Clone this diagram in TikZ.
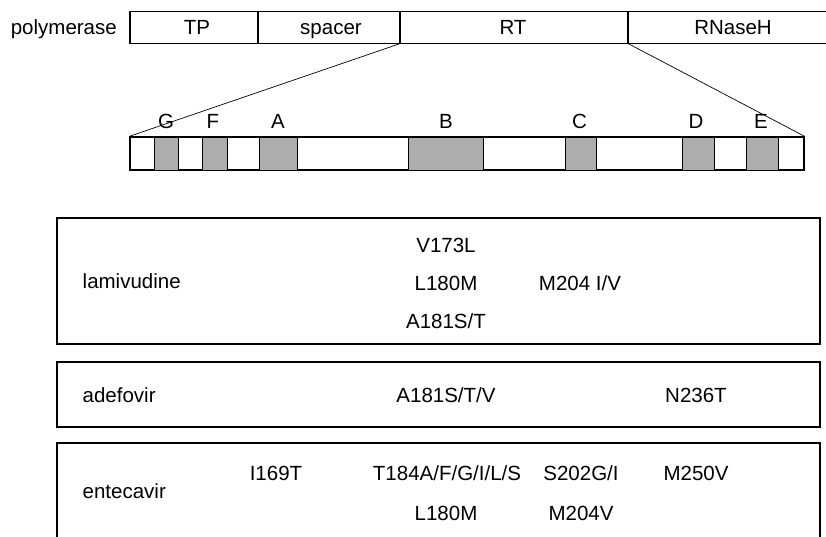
\documentclass[tikz,border=0pt]{standalone}
\usepackage{fontspec}
\setmainfont{Liberation Sans}
\begin{document}
\begin{tikzpicture}[x=1pt,y=-1pt,
  lbl/.style={font=\fontsize{20.5}{24}\selectfont, inner sep=0pt, text height=14.7pt, text depth=0pt},
  seg/.style={draw, line width=1.3pt, inner sep=0pt, minimum height=32pt},
  drugbox/.style={draw, line width=1.4pt},
  zoomline/.style={line width=0.7pt},
  motif/.style={draw, line width=1pt, fill=black!32, inner sep=0pt, minimum height=33pt}
]
\useasboundingbox (0,0) rectangle (826,536);

% polymerase bar
\node[seg, minimum width=128pt] (tp) at (194,27.2) {};
\node[seg, minimum width=142pt] (sp) at (329,27.2) {};
\node[seg, minimum width=228pt] (rt) at (514,27.2) {};
\node[seg, minimum width=212pt] (rh) at (734,27.2) {};
\node[lbl, anchor=east] (pol) at (117,27.2) {polymerase};
\node[lbl] (tpl) at (197,27.2) {TP};
\node[lbl] (spl) at (331,27.2) {spacer};
\node[lbl] (rtl) at (513,27.2) {RT};
\node[lbl] (rhl) at (733,27.2) {RNaseH};

% RT domain bar
\node[seg, line width=1.3pt, minimum width=674pt, minimum height=33pt] (bar) at (467,153.5) {};
\node[motif, minimum width=24pt] (mG) at (166,153.5) {};
\node[motif, minimum width=25pt] (mF) at (214.5,153.5) {};
\node[motif, minimum width=38pt] (mA) at (278,153.5) {};
\node[motif, minimum width=75pt] (mB) at (446,153.5) {};
\node[motif, minimum width=31pt] (mC) at (581,153.5) {};
\node[motif, minimum width=32pt] (mD) at (698.5,153.5) {};
\node[motif, minimum width=32pt] (mE) at (762.5,153.5) {};
\node[lbl] (lG) at (166,120.7) {G};
\node[lbl] (lF) at (213,120.7) {F};
\node[lbl] (lA) at (278,120.7) {A};
\node[lbl] (lB) at (446,120.7) {B};
\node[lbl] (lC) at (579.5,120.7) {C};
\node[lbl] (lD) at (696,120.7) {D};
\node[lbl] (lE) at (761,120.7) {E};

\draw[zoomline] (rt.south west) -- (bar.north west);
\draw[zoomline] (rt.south east) -- (bar.north east);

% lamivudine
\draw[drugbox] (57,218) rectangle (820,344);
\node[lbl, anchor=west] (lam) at (82.5,281) {lamivudine};
\node[lbl] (l1) at (446,244.7) {V173L};
\node[lbl] (l2) at (446,282.7) {L180M};
\node[lbl] (l3) at (446,321.2) {A181S/T};
\node[lbl] (l4) at (580,282.7) {M204 I/V};

% adefovir
\draw[drugbox] (57,362) rectangle (820,427);
\node[lbl, anchor=west] (ade) at (82.5,394.7) {adefovir};
\node[lbl] (a1) at (446,394.7) {A181S/T/V};
\node[lbl] (a2) at (696,394.7) {N236T};

% entecavir
\draw[drugbox] (57,545) -- (57,443) -- (820,443) -- (820,545);
\node[lbl, anchor=west] (ent) at (82.5,491) {entecavir};
\node[lbl] (e1) at (276,473) {I169T};
\node[lbl] (e2) at (447,473) {T184A/F/G/I/L/S};
\node[lbl] (e3) at (581,473) {S202G/I};
\node[lbl] (e4) at (696,473) {M250V};
\node[lbl] (e5) at (446,513) {L180M};
\node[lbl] (e6) at (581,513) {M204V};
\end{tikzpicture}
\end{document}
